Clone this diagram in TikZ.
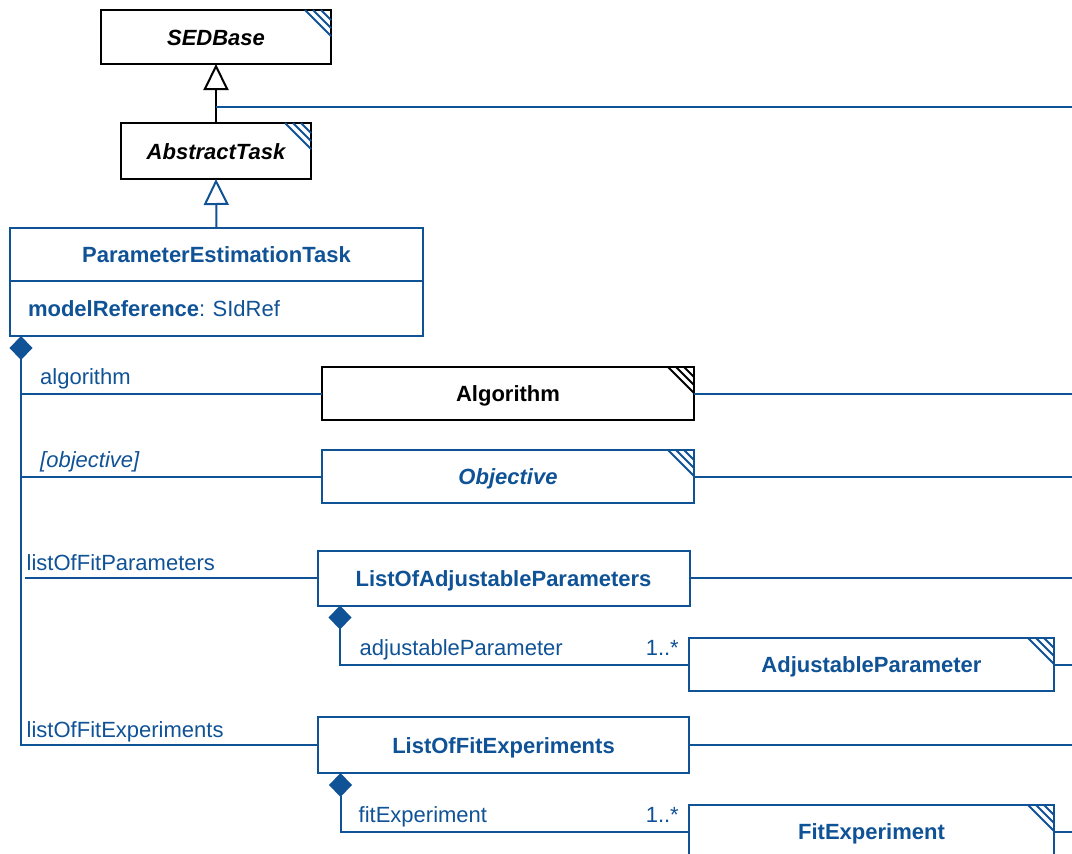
\documentclass[tikz,border=0pt]{standalone}
\usepackage{fontspec}
\setmainfont{Liberation Sans}
\usetikzlibrary{arrows.meta}
\definecolor{ublue}{RGB}{16,82,150}
\frenchspacing
\newcommand{\umlhatch}[2]{%
  \foreach \d in {10,18,26}{\draw[#1, line width=2pt, line cap=butt] ([xshift=-\d pt]#2.north east) -- ([yshift=-\d pt]#2.north east);}}
\begin{document}
\begin{tikzpicture}[x=1pt,y=-1pt,
  every node/.style={font=\fontsize{22}{26}\selectfont},
  box/.style={draw=ublue, line width=2pt, fill=white, inner sep=0pt, outer sep=0pt,
    text=ublue, font=\fontsize{22}{26}\selectfont\bfseries, text height=16pt, text depth=0pt},
  bbox/.style={box, draw=black, text=black},
  lbl/.style={anchor=base west, inner sep=0pt, text=ublue},
  lblr/.style={anchor=base east, inner sep=0pt, text=ublue},
  assoc/.style={draw=ublue, line width=2pt},
  comp/.style={assoc, {Diamond[length=24pt,width=23pt]}-},
  inh/.style={line width=2pt, -{Triangle[open,length=26pt,width=25pt]}}
]
\useasboundingbox (0,0) rectangle (1072,854);
\coordinate (R) at (1072,0);

% classes
\node[bbox, minimum width=230pt, minimum height=54pt, font=\fontsize{22}{26}\selectfont\bfseries\itshape] (sed) at (216,37) {SEDBase};
\node[bbox, minimum width=190pt, minimum height=56pt, font=\fontsize{22}{26}\selectfont\bfseries\itshape] (at) at (216,151) {AbstractTask};
\node[box, minimum width=413pt, minimum height=53pt] (pet) at (216.5,254.5) {ParameterEstimationTask};
\node[box, minimum height=55pt, text width=377pt, inner xsep=18pt, align=left, font=\fontsize{22}{26}\selectfont] (peta) at (216.5,308.5) {\textbf{modelReference}:\ SIdRef};
\node[bbox, minimum width=372pt, minimum height=53pt] (alg) at (508,393.5) {Algorithm};
\node[box, minimum width=372pt, minimum height=53pt, font=\fontsize{22}{26}\selectfont\bfseries\itshape] (obj) at (508,476.5) {Objective};
\node[box, minimum width=372pt, minimum height=55pt] (lap) at (503.5,578) {ListOfAdjustableParameters};
\node[box, minimum width=365pt, minimum height=53pt] (adj) at (871.5,664.5) {AdjustableParameter};
\node[box, minimum width=371pt, minimum height=56pt] (lofe) at (503.5,745) {ListOfFitExperiments};
\node[box, minimum width=365pt, minimum height=53pt] (fite) at (871.5,831.5) {FitExperiment};

% hatches
\umlhatch{ublue}{sed}
\umlhatch{ublue}{at}
\umlhatch{black}{alg}
\umlhatch{ublue}{obj}
\umlhatch{ublue}{adj}
\umlhatch{ublue}{fite}

% inheritance
\draw[inh, draw=black] (at.north) -- (sed.south);
\draw[inh, draw=ublue] (pet.north) -- (at.south);
\coordinate (j1) at (216,107);
\draw[assoc] (j1) -- (j1 -| R);

% composition from ParameterEstimationTask
\coordinate (v) at ([xshift=11pt]peta.south west);
\draw[comp] (v) |- (lofe.west);
\draw[assoc] (alg.west -| v) -- (alg.west);
\draw[assoc] (obj.west -| v) -- (obj.west);
\draw[assoc] ([xshift=4pt]lap.west -| v) -- (lap.west);

% lines to the right
\draw[assoc] (alg.east) -- (alg.east -| R);
\draw[assoc] (obj.east) -- (obj.east -| R);
\draw[assoc] (lap.east) -- (lap.east -| R);
\draw[assoc] (adj.east) -- (adj.east -| R);
\draw[assoc] (lofe.east) -- (lofe.east -| R);
\draw[assoc] (fite.east) -- (fite.east -| R);

% second-level compositions
\draw[comp] ([xshift=22.5pt]lap.south west) |- (adj.west);
\draw[comp] ([xshift=22.5pt]lofe.south west) |- (fite.west);

% labels
\node[lbl] (l1) at (40,384) {algorithm};
\node[lbl, font=\fontsize{22}{26}\selectfont\itshape] (l2) at (40,467) {[objective]};
\node[lbl] (l3) at (26.5,570) {listOfFitParameters};
\node[lbl] (l4) at (26.5,737.5) {listOfFitExperiments};
\node[lbl] (l5) at (359.5,655) {adjustableParameter};
\node[lblr] (m5) at (679,655) {1..*};
\node[lbl] (l6) at (358.5,822) {fitExperiment};
\node[lblr] (m6) at (679,822) {1..*};
\end{tikzpicture}
\end{document}
